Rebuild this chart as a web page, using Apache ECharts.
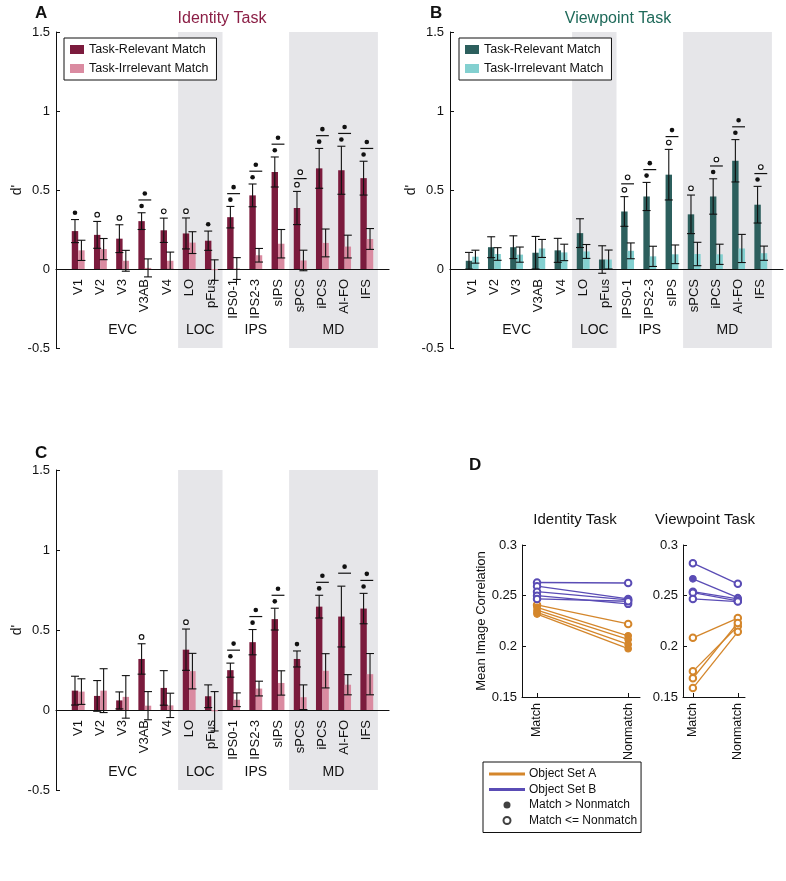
<!DOCTYPE html>
<html><head><meta charset="utf-8">
<script src="https://cdn.jsdelivr.net/npm/echarts@6/dist/echarts.min.js"></script>
<style>html,body{margin:0;padding:0;background:#fff}#c{width:786px;height:881px}</style>
</head><body><div id="c"></div>
<script>
// ---------- data ----------
const regions = ['V1','V2','V3','V3AB','V4','LO','pFus','IPS0-1','IPS2-3','sIPS','sPCS','iPCS','AI-FO','IFS'];
const groupNames = ['EVC','LOC','IPS','MD'];
const groupStart = [1,6,8,11];
const groupEnd = [5,7,10,14];
const shadedGroups = [1,3];
const yTicksD = [0.15,0.2,0.25,0.3];

// Panel A (Identity task)
const aRelMean = [0.240,0.216,0.192,0.303,0.245,0.225,0.179,0.328,0.466,0.614,0.386,0.637,0.625,0.575];
const aRelSE   = [0.073,0.085,0.088,0.053,0.077,0.098,0.061,0.068,0.072,0.095,0.105,0.126,0.152,0.107];
const aIrrMean = [0.118,0.126,0.052,0.007,0.052,0.167,-0.007,0.003,0.087,0.160,0.054,0.165,0.142,0.190];
const aIrrSE   = [0.064,0.067,0.066,0.057,0.055,0.069,0.065,0.069,0.043,0.090,0.065,0.088,0.072,0.066];
const aRelSig  = [1,2,2,1,2,2,1,1,1,1,2,1,1,1];   // 0 none, 1 filled, 2 open
const aDiffSig = [0,0,0,1,0,0,0,1,1,1,2,1,1,1];

// Panel B (Viewpoint task)
const bRelMean = [0.052,0.138,0.138,0.103,0.118,0.227,0.060,0.364,0.459,0.597,0.346,0.459,0.685,0.407];
const bRelSE   = [0.053,0.066,0.072,0.103,0.076,0.091,0.087,0.094,0.089,0.160,0.122,0.112,0.134,0.116];
const bIrrMean = [0.078,0.095,0.091,0.130,0.105,0.111,0.060,0.115,0.080,0.093,0.095,0.093,0.130,0.100];
const bIrrSE   = [0.041,0.040,0.048,0.057,0.052,0.044,0.060,0.050,0.064,0.059,0.074,0.064,0.089,0.045];
const bRelSig  = [0,0,0,0,0,0,0,2,1,2,2,1,1,1];
const bDiffSig = [0,0,0,0,0,0,0,2,1,1,0,2,1,2];

// Panel C
const cRelMean = [0.121,0.088,0.060,0.319,0.138,0.377,0.086,0.249,0.424,0.568,0.319,0.646,0.584,0.634];
const cRelSE   = [0.090,0.096,0.053,0.095,0.108,0.129,0.071,0.044,0.079,0.068,0.050,0.071,0.190,0.095];
const cIrrMean = [0.115,0.121,0.082,0.027,0.029,0.243,-0.008,0.064,0.134,0.169,0.080,0.245,0.158,0.224];
const cIrrSE   = [0.080,0.137,0.133,0.088,0.076,0.111,0.123,0.043,0.046,0.076,0.077,0.107,0.063,0.129];
const cRelSig  = [0,0,0,2,0,2,0,1,1,1,1,1,0,1];
const cDiffSig = [0,0,0,0,0,0,0,1,1,1,0,1,1,1];

// Panel D
const dCond = ['Match','Nonmatch'];
const idA_match    = [0.2409,0.2385,0.2357,0.2334,0.2318];
const idA_nonmatch = [0.2221,0.2104,0.2068,0.2019,0.1977];
const idA_filled   = [0,1,1,1,1];
const idB_match    = [0.2630,0.2594,0.2539,0.2500,0.2468];
const idB_nonmatch = [0.2625,0.2468,0.2458,0.2419,0.2445];
const idB_filled   = [0,0,0,0,0];
const vpA_match    = [0.2084,0.1753,0.1685,0.1588];
const vpA_nonmatch = [0.2279,0.2198,0.2231,0.2143];
const vpA_filled   = [0,0,0,0];
const vpB_match    = [0.2821,0.2666,0.2539,0.2529,0.2468];
const vpB_nonmatch = [0.2617,0.2480,0.2468,0.2448,0.2442];
const vpB_filled   = [0,1,0,0,0];

// ---------- styling ----------
const FONT = "'Liberation Sans', Arial, Helvetica, sans-serif";
const INK = '#111';
const SHADE = '#e6e6e9';
const ORANGE = '#d4862b';
const PURPLE = '#5a4cb5';
const GROUPY = -0.39;

const panels = [
  {rel:aRelMean, relSE:aRelSE, irr:aIrrMean, irrSE:aIrrSE, relSig:aRelSig, diffSig:aDiffSig, dark:'#7b1b3d', light:'#da8ba1', names:['aRel','aIrr']},
  {rel:bRelMean, relSE:bRelSE, irr:bIrrMean, irrSE:bIrrSE, relSig:bRelSig, diffSig:bDiffSig, dark:'#2c5f5d', light:'#83d0d0', names:['bRel','bIrr']},
  {rel:cRelMean, relSE:cRelSE, irr:cIrrMean, irrSE:cIrrSE, relSig:cRelSig, diffSig:cDiffSig, dark:'#7b1b3d', light:'#da8ba1', names:['cRel','cIrr']}
];
const legendNames = {aRel:'Task-Relevant Match', aIrr:'Task-Irrelevant Match', bRel:'Task-Relevant Match', bIrr:'Task-Irrelevant Match'};

const grids = [
  {left:56,  top:32,  width:333, height:316},
  {left:450, top:32,  width:333, height:316},
  {left:56,  top:470, width:333, height:320},
  {left:522, top:545, width:118, height:152},
  {left:683, top:545, width:62,  height:152}
];
const dRange = [[-0.165,1.13],[-0.22,1.16]];

const xAxes = [], yAxes = [], series = [];

function barHalf(api){ return api.size([1,0])[0]*0.29; }
const TXT = (text, font, extra) => Object.assign({text:text, font:font, fill:INK}, extra||{});

panels.forEach((p, gi) => {
  xAxes.push({
    type:'value', gridIndex:gi, min:0, max:15, interval:1,
    axisLine:{show:true, onZero:true, lineStyle:{color:INK, width:1.2}},
    axisTick:{show:false}, splitLine:{show:false}, axisLabel:{show:false}
  });
  yAxes.push({
    type:'value', gridIndex:gi, min:-0.5, max:1.5, interval:0.5,
    name:"d'", nameLocation:'middle', nameGap:29, nameRotate:90,
    nameTextStyle:{fontSize:14, fontFamily:FONT, color:INK},
    axisLine:{show:true, onZero:false, lineStyle:{color:INK, width:1}},
    axisTick:{show:true, inside:true, length:4, lineStyle:{color:INK}},
    axisLabel:{fontSize:13, fontFamily:FONT, color:INK, margin:6},
    splitLine:{show:false}
  });
  // shading
  series.push({
    type:'custom', xAxisIndex:gi, yAxisIndex:gi, silent:true, clip:false, z:0,
    data: shadedGroups.map(g => [groupStart[g]-0.5, groupEnd[g]+0.5]),
    renderItem:(params, api) => {
      const a = api.coord([api.value(0), 1.5]);
      const b = api.coord([api.value(1), -0.5]);
      return {type:'rect', shape:{x:a[0], y:a[1], width:b[0]-a[0], height:b[1]-a[1]}, style:{fill:SHADE}};
    }
  });
  // bars
  [0,1].forEach(k => {
    const vals = k===0 ? p.rel : p.irr;
    series.push({
      type:'custom', name:p.names[k], xAxisIndex:gi, yAxisIndex:gi, z:2, silent:true,
      itemStyle:{color: k===0 ? p.dark : p.light},
      data: vals.map((v,i) => [i+1, v]),
      renderItem:(params, api) => {
        const bw = barHalf(api);
        const p0 = api.coord([api.value(0), 0]);
        const p1 = api.coord([api.value(0), api.value(1)]);
        const x = k===0 ? p0[0]-bw : p0[0];
        return {type:'rect', shape:{x:x, y:Math.min(p0[1],p1[1]), width:bw, height:Math.abs(p1[1]-p0[1])},
                style:{fill: k===0 ? p.dark : p.light}};
      }
    });
  });
  // error bars
  const errData = [];
  regions.forEach((r,i) => {
    errData.push([i+1, p.rel[i], p.relSE[i], -1]);
    errData.push([i+1, p.irr[i], p.irrSE[i], 1]);
  });
  series.push({
    type:'custom', xAxisIndex:gi, yAxisIndex:gi, z:4, silent:true, clip:false,
    data: errData,
    renderItem:(params, api) => {
      const bw = barHalf(api);
      const x = api.value(0), m = api.value(1), se = api.value(2), side = api.value(3);
      const c = api.coord([x,0])[0] + side*bw/2;
      const t = api.coord([x, m+se])[1], b = api.coord([x, m-se])[1];
      const cap = 4, st = {stroke:INK, lineWidth:1.1};
      return {type:'group', children:[
        {type:'line', shape:{x1:c, y1:t, x2:c, y2:b}, style:st},
        {type:'line', shape:{x1:c-cap, y1:t, x2:c+cap, y2:t}, style:st},
        {type:'line', shape:{x1:c-cap, y1:b, x2:c+cap, y2:b}, style:st}
      ]};
    }
  });
  // significance markers
  series.push({
    type:'custom', xAxisIndex:gi, yAxisIndex:gi, z:4, silent:true, clip:false,
    data: regions.map((r,i) => [i+1, p.relSig[i], p.diffSig[i], Math.max(p.rel[i]+p.relSE[i], p.irr[i]+p.irrSE[i])]),
    renderItem:(params, api) => {
      const bw = barHalf(api);
      const x = api.value(0), rs = api.value(1), ds = api.value(2), et = api.value(3);
      const c = api.coord([x,0])[0];
      const ch = [];
      const dot = (cx, v, kind) => ({type:'circle', shape:{cx:cx, cy:api.coord([x, v])[1], r:2.3},
        style: kind===1 ? {fill:INK} : {fill:'#fff', stroke:INK, lineWidth:1.1}});
      if (rs) ch.push(dot(c - bw/2, et+0.043, rs));
      if (ds) {
        const ly = api.coord([x, et+0.081])[1];
        ch.push({type:'line', shape:{x1:c-bw, y1:ly, x2:c+bw, y2:ly}, style:{stroke:INK, lineWidth:1.2}});
        ch.push(dot(c, et+0.122, ds));
      }
      return {type:'group', children:ch};
    }
  });
  // region labels (rotated, just under the zero line)
  series.push({
    type:'custom', xAxisIndex:gi, yAxisIndex:gi, z:4, silent:true, clip:false,
    data: regions.map((r,i) => [i+1, i]),
    renderItem:(params, api) => {
      const pt = api.coord([api.value(0), 0]);
      return {type:'text', x:pt[0], y:pt[1]+10, rotation:Math.PI/2,
        style:TXT(regions[api.value(1)], '13px '+FONT, {align:'right', verticalAlign:'middle', textAlign:'right', textVerticalAlign:'middle'})};
    }
  });
  // group labels
  series.push({
    type:'custom', xAxisIndex:gi, yAxisIndex:gi, z:4, silent:true, clip:false,
    data: groupNames.map((g,j) => [(groupStart[j]+groupEnd[j])/2, j]),
    renderItem:(params, api) => {
      const pt = api.coord([api.value(0), GROUPY]);
      return {type:'text', x:pt[0], y:pt[1],
        style:TXT(groupNames[api.value(1)], '14px '+FONT, {align:'center', verticalAlign:'middle', textAlign:'center', textVerticalAlign:'middle'})};
    }
  });
});

// Panel D axes
[3,4].forEach((gi, j) => {
  xAxes.push({
    type:'value', gridIndex:gi, min:dRange[j][0], max:dRange[j][1],
    axisLine:{show:true, onZero:false, lineStyle:{color:INK}},
    axisTick:{show:true, inside:true, length:4, customValues:[0,1], lineStyle:{color:INK}},
    axisLabel:{customValues:[0,1], rotate:90, margin:6, fontSize:12.5, fontFamily:FONT, color:INK,
      formatter: v => (v===0 ? dCond[0] : (v===1 ? dCond[1] : ''))},
    splitLine:{show:false}
  });
  yAxes.push({
    type:'value', gridIndex:gi, min:0.15, max:0.3, interval:0.05,
    name: gi===3 ? 'Mean Image Correlation' : '', nameLocation:'middle', nameGap:30, nameRotate:90,
    nameTextStyle:{fontSize:13, fontFamily:FONT, color:INK},
    axisLine:{show:true, onZero:false, lineStyle:{color:INK}},
    axisTick:{show:true, inside:true, length:4, lineStyle:{color:INK}},
    axisLabel:{fontSize:13, fontFamily:FONT, color:INK, margin:5, customValues:yTicksD},
    splitLine:{show:false}
  });
});

function subjectSeries(gi, name, color, match, nonmatch, filled){
  return match.map((m,i) => ({
    type:'line', name:name, xAxisIndex:gi, yAxisIndex:gi, z:5, silent:true,
    symbolSize:6.5,
    data:[{value:[0,m], symbol: filled[i] ? 'circle' : 'emptyCircle'},
          {value:[1,nonmatch[i]], symbol: filled[i] ? 'circle' : 'emptyCircle'}],
    lineStyle:{color:color, width:1.3},
    itemStyle:{color:color, borderColor:color, borderWidth:1.2},
    emphasis:{disabled:true}
  }));
}
series.push(...subjectSeries(3,'Object Set A',ORANGE,idA_match,idA_nonmatch,idA_filled));
series.push(...subjectSeries(3,'Object Set B',PURPLE,idB_match,idB_nonmatch,idB_filled));
series.push(...subjectSeries(4,'Object Set A',ORANGE,vpA_match,vpA_nonmatch,vpA_filled));
series.push(...subjectSeries(4,'Object Set B',PURPLE,vpB_match,vpB_nonmatch,vpB_filled));
series.push({type:'scatter', name:'Match > Nonmatch', xAxisIndex:4, yAxisIndex:4, data:[], symbol:'circle', itemStyle:{color:INK}});
series.push({type:'scatter', name:'Match <= Nonmatch', xAxisIndex:4, yAxisIndex:4, data:[], symbol:'emptyCircle', itemStyle:{color:INK}});

const legendCommon = {
  orient:'vertical', selectedMode:false, backgroundColor:'#fff',
  borderColor:INK, borderWidth:1, borderRadius:0,
  textStyle:{fontSize:12.5, fontFamily:FONT, color:INK}
};

const option = {
  animation:false,
  backgroundColor:'#fff',
  grid: grids,
  xAxis: xAxes,
  yAxis: yAxes,
  legend: [
    Object.assign({}, legendCommon, {left:64, top:38, padding:[5,8,5,6], itemGap:6, itemWidth:14, itemHeight:9,
      icon:'rect', data:['aRel','aIrr'], formatter:n => legendNames[n]}),
    Object.assign({}, legendCommon, {left:459, top:38, padding:[5,8,5,6], itemGap:6, itemWidth:14, itemHeight:9,
      icon:'rect', data:['bRel','bIrr'], formatter:n => legendNames[n]}),
    Object.assign({}, legendCommon, {left:483, top:762, padding:[6,4,6,6], itemGap:3.5, itemWidth:34, itemHeight:7,
      textStyle:{fontSize:12, fontFamily:FONT, color:INK},
      data:[
        {name:'Object Set A', icon:'path://M0,0H40V1H0Z'},
        {name:'Object Set B', icon:'path://M0,0H40V1H0Z'},
        {name:'Match > Nonmatch', icon:'circle'},
        {name:'Match <= Nonmatch', icon:'emptyCircle'}
      ]})
  ],
  graphic: [
    {type:'text', x:222, y:19, style:{text:'Identity Task', font:'16px '+FONT, fill:'#8b1e45', align:'center', verticalAlign:'middle', textAlign:'center', textVerticalAlign:'middle'}},
    {type:'text', x:618, y:19, style:{text:'Viewpoint Task', font:'16px '+FONT, fill:'#1f6a5a', align:'center', verticalAlign:'middle', textAlign:'center', textVerticalAlign:'middle'}},
    {type:'text', x:575, y:520, style:{text:'Identity Task', font:'15px '+FONT, fill:INK, align:'center', verticalAlign:'middle', textAlign:'center', textVerticalAlign:'middle'}},
    {type:'text', x:705, y:520, style:{text:'Viewpoint Task', font:'15px '+FONT, fill:INK, align:'center', verticalAlign:'middle', textAlign:'center', textVerticalAlign:'middle'}},
    {type:'text', x:35, y:5, style:{text:'A', font:'bold 17px '+FONT, fill:INK}},
    {type:'text', x:430, y:5, style:{text:'B', font:'bold 17px '+FONT, fill:INK}},
    {type:'text', x:35, y:445, style:{text:'C', font:'bold 17px '+FONT, fill:INK}},
    {type:'text', x:469, y:457, style:{text:'D', font:'bold 17px '+FONT, fill:INK}}
  ],
  series: series
};

const chart = echarts.init(document.getElementById('c'), null, {renderer:'canvas'});
chart.setOption(option);
</script>
</body></html>
